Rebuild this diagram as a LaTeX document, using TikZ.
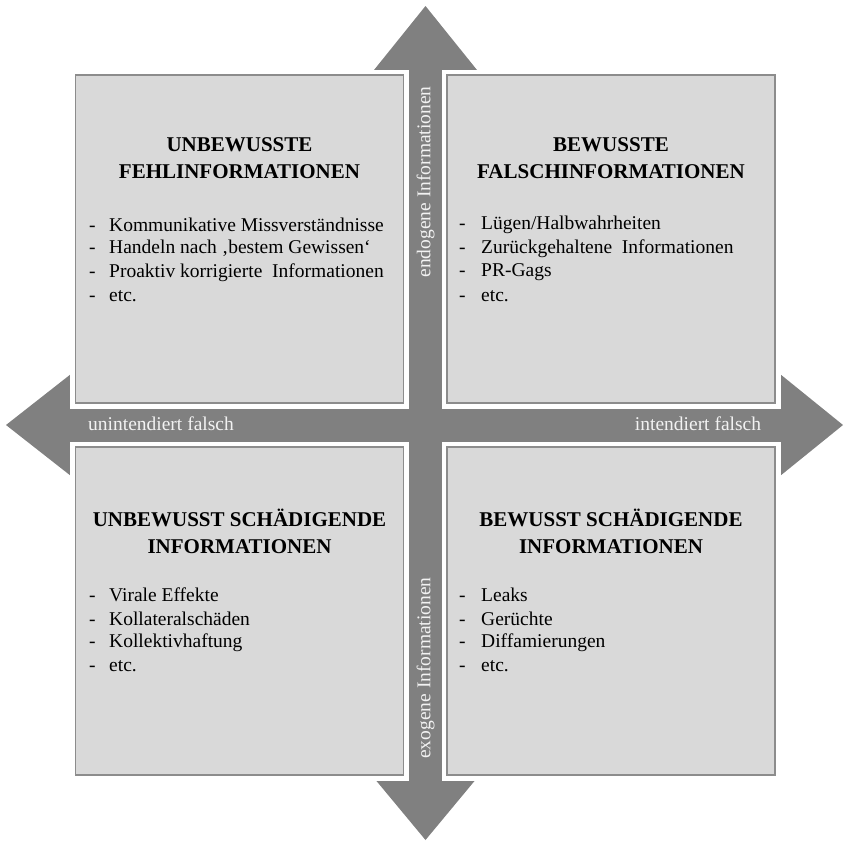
\documentclass[tikz,border=0pt]{standalone}
\usepackage{fontspec}
\setmainfont{Liberation Serif}
\usetikzlibrary{calc}
\definecolor{arrowgray}{HTML}{808080}
\definecolor{boxfill}{HTML}{D9D9D9}
\definecolor{boxline}{HTML}{8C8C8C}
\definecolor{labelwhite}{HTML}{F2F2F2}
\tikzset{
  quadrant/.style={draw=boxline,fill=boxfill,line width=1.8pt,preaction={draw=white,line width=11pt},minimum width=328pt,minimum height=328pt,inner sep=0pt},
  titletext/.style={font=\fontsize{21}{27}\selectfont\bfseries,align=center},
  itemtext/.style={font=\fontsize{19.5}{23.7}\selectfont,anchor=west,inner sep=0pt},
  axistext/.style={font=\fontsize{19.5}{23}\selectfont,text=labelwhite,inner sep=0pt}
}
\begin{document}
\begin{tikzpicture}[x=1pt,y=-1pt]
    \useasboundingbox (0,0) rectangle (847,844);
    % cross of four arrows
    \fill[arrowgray] (425.5,6)--(477,70)--(442,70)--(442,408)--(780,408)--(780,374)--(843,425)
      --(780,476)--(780,442)--(442,442)--(442,778)--(477,778)--(425.5,840)--(374,778)
      --(409,778)--(409,442)--(71,442)--(71,476)--(6,425)--(71,374)--(71,408)--(409,408)
      --(409,70)--(374,70)--cycle;
    \node[axistext,rotate=90] (endo) at (425.5,182) {endogene Informationen};
    \node[axistext,rotate=90] (exo) at (425.5,668) {exogene Informationen};
    \node[axistext] (unint) at (161,424) {unintendiert falsch};
    \node[axistext] (int) at (698,424) {intendiert falsch};
    % quadrants
    \node[quadrant] (tl) at (239.5,239) {};
    \node[quadrant] (tr) at (611,239) {};
    \node[quadrant] (bl) at (239.5,611) {};
    \node[quadrant] (br) at (611,611) {};
    \node[titletext] (tltitle) at (239.5,158.5) {UNBEWUSSTE\\FEHLINFORMATIONEN};
    \node[titletext] (trtitle) at (611,158.5) {BEWUSSTE\\FALSCHINFORMATIONEN};
    \node[titletext] (bltitle) at (239.5,531.5) {UNBEWUSST SCHÄDIGENDE\\INFORMATIONEN};
    \node[titletext] (brtitle) at (611,531.5) {BEWUSST SCHÄDIGENDE\\INFORMATIONEN};
    \foreach \t [count=\i] in {Kommunikative Missverständnisse,Handeln nach ‚bestem Gewissen‘,Proaktiv korrigierte\ \ Informationen,etc.}
      \node[itemtext] (tlitem\i) at (89,{225+(\i-1)*23.7}) {\makebox[20pt][l]{-}\t};
    \foreach \t [count=\i] in {Lügen/Halbwahrheiten,Zurückgehaltene\ \ Informationen,PR-Gags,etc.}
      \node[itemtext] (tritem\i) at (459,{225+(\i-1)*23.7}) {\makebox[22pt][l]{-}\t};
    \foreach \t [count=\i] in {Virale Effekte,Kollateralschäden,Kollektivhaftung,etc.}
      \node[itemtext] (blitem\i) at (89,{595+(\i-1)*23.7}) {\makebox[20pt][l]{-}\t};
    \foreach \t [count=\i] in {Leaks,Gerüchte,Diffamierungen,etc.}
      \node[itemtext] (britem\i) at (459,{595+(\i-1)*23.7}) {\makebox[22pt][l]{-}\t};
\end{tikzpicture}
\end{document}
